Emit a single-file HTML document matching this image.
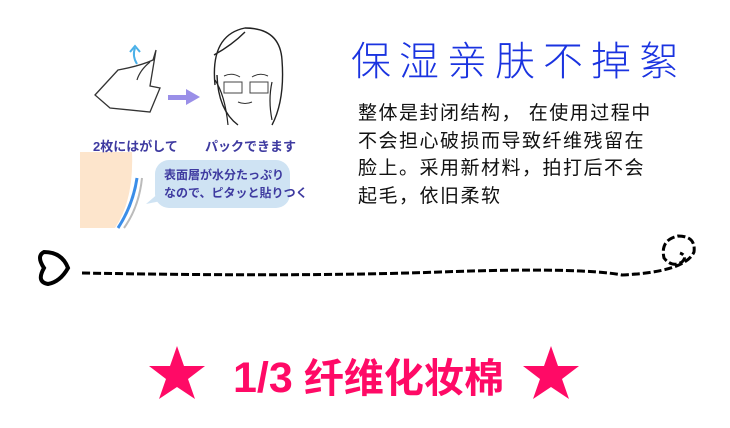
<!DOCTYPE html>
<html><head><meta charset="utf-8"><style>
body{margin:0;width:730px;height:428px;background:#fff;position:relative;overflow:hidden;font-family:"Liberation Sans","Noto Sans CJK SC",sans-serif}
.t{position:absolute;white-space:nowrap}
</style></head><body>
<svg width="730" height="428" style="position:absolute;left:0;top:0">
 <!-- tissue -->
 <path d="M95 95 L118 70 Q140 66 153 60 L156 50 L150 86 L160 88 L150 112 L110 108 Z" fill="#fff" stroke="#333" stroke-width="1.3"/>
 <path d="M137 80 Q140 70 150 62" fill="none" stroke="#333" stroke-width="1.2"/>
 <path d="M137 64 Q132 56 135 48" fill="none" stroke="#4ab0e8" stroke-width="2"/>
 <path d="M130 52 L135 46 L140 52" fill="none" stroke="#4ab0e8" stroke-width="2"/>
 <!-- arrow -->
 <path d="M168 95 H186 V89 L200 97 L186 105 V100 H168 Z" fill="#9a8fe8"/>
 <!-- face -->
 <path d="M215 85 Q210 35 245 28 Q280 28 282 60 Q285 100 272 125 M217 75 Q218 110 238 125 M245 32 Q232 45 214 55" fill="none" stroke="#222" stroke-width="1.4"/>
 <path d="M215 80 Q225 95 228 125 M272 82 Q268 100 272 120" fill="none" stroke="#222" stroke-width="1.2"/>
 <rect x="224" y="82" width="18" height="11" fill="none" stroke="#444"/>
 <rect x="250" y="82" width="18" height="11" fill="none" stroke="#444"/>
 <path d="M224 76 Q232 72 240 77 M252 77 Q260 72 268 76 M238 102 Q245 105 252 102" fill="none" stroke="#333"/>
 <!-- cheek -->
 <path d="M80 152 L132 152 Q134 200 115 228 L80 228 Z" fill="#fde5cc"/>
 <path d="M80 152 L80 228" stroke="#fff" stroke-width="0"/>
 <path d="M137 178 Q133 205 118 228" fill="none" stroke="#3a8de8" stroke-width="3"/>
 <path d="M142 178 Q139 207 124 228" fill="none" stroke="#bbb" stroke-width="2"/>
 <rect x="155" y="160" width="135" height="48" rx="14" fill="#cfe3f3"/>
 <path d="M160 192 L146 204 L166 200 Z" fill="#cfe3f3"/>
 <!-- dashed line -->
 <path d="M44 252 Q36 256 44 268 Q36 282 48 284 Q60 282 68 268 Q62 252 44 252 Z" fill="none" stroke="#000" stroke-width="4"/>
 <path d="M82 273 Q300 277 440 272 T622 275 Q685 272 694 252 Q696 236 678 236 Q660 240 664 258 Q672 268 682 262 Q688 256 680 253" fill="none" stroke="#000" stroke-width="3" stroke-dasharray="8 3"/>
 <!-- stars -->
 <polygon points="177,346 184,366 205,366 188,379 195,399 177,387 159,399 166,379 149,366 170,366" fill="#ff0a66"/>
 <polygon points="551,346 558,366 579,366 562,379 569,399 551,387 533,399 540,379 523,366 544,366" fill="#ff0a66"/>
</svg>
<div class="t" style="left:93px;top:136px;font-size:13px;font-weight:bold;color:#3e3aa0">2枚にはがして</div>
<div class="t" style="left:205px;top:136px;font-size:13px;font-weight:bold;color:#3e3aa0">パックできます</div>
<div class="t" style="left:164px;top:166px;font-size:12px;font-weight:bold;color:#3e3aa0;line-height:18px">表面層が水分たっぷり<br>なので、ピタッと貼りつく</div>
<div class="t" style="left:351px;top:37px;font-size:40px;letter-spacing:8px;color:#1a33e0;line-height:50px;font-weight:300">保湿亲肤不掉絮</div>
<div class="t" style="left:358px;top:100px;font-size:19px;letter-spacing:1.5px;color:#111;line-height:27.5px">整体是封闭结构， 在使用过程中<br>不会担心破损而导致纤维残留在<br>脸上。采用新材料，拍打后不会<br>起毛，依旧柔软</div>
<div class="t" style="left:233px;top:352px;font-size:40px;font-weight:bold;color:#ff0a66;line-height:52px"><span style="font-size:43px">1/3</span> 纤维化妆棉</div>
</body></html>
